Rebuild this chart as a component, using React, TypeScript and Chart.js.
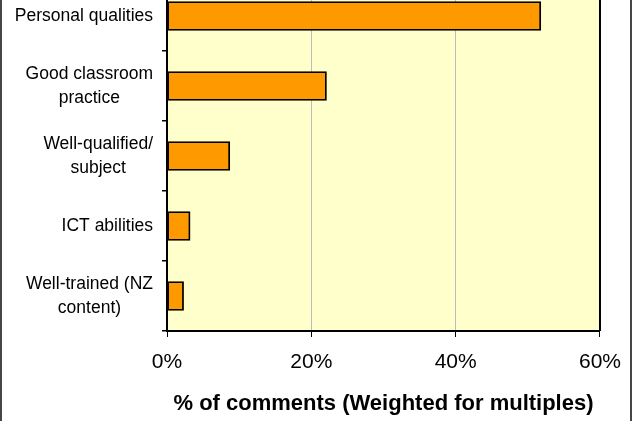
import React, { useEffect, useRef } from "react";
import { Chart, registerables } from "chart.js";

Chart.register(...registerables);

// Category labels (one entry per bar, split into display lines)
const categories: string[][] = [
  ["Personal qualities"],
  ["Good classroom", "practice"],
  ["Well-qualified/", "subject"],
  ["ICT abilities"],
  ["Well-trained (NZ", "content)"],
];

// Share of comments, percent (weighted for multiples)
const shares: number[] = [51.8, 22.1, 8.7, 3.2, 2.3];

// Value axis
const axisMin = 0;
const axisMax = 60;
const axisStep = 20;
const axisTitle = "% of comments (Weighted for multiples)";

const FONT = '"Liberation Sans", Arial, Helvetica, sans-serif';

// Fills and frames the plot area, draws the outer chart frame
const plotFrame = {
  id: "plotFrame",
  beforeDraw(chart: any) {
    const { ctx, chartArea: a } = chart;
    ctx.save();
    ctx.fillStyle = "#ffffff";
    ctx.fillRect(0, 0, chart.width, chart.height);
    ctx.fillStyle = "#FFFFCC";
    ctx.fillRect(a.left, a.top, a.right - a.left, a.bottom - a.top);
    ctx.restore();
  },
  afterDraw(chart: any) {
    const { ctx, chartArea: a } = chart;
    ctx.save();
    ctx.strokeStyle = "#000";
    ctx.lineWidth = 2;
    ctx.beginPath();
    ctx.moveTo(a.right, a.top);
    ctx.lineTo(a.right, a.bottom);
    ctx.moveTo(a.left, a.top);
    ctx.lineTo(a.right, a.top);
    ctx.stroke();
    // outer chart border
    ctx.strokeStyle = "#1a1a1a";
    ctx.lineWidth = 1.6;
    ctx.beginPath();
    ctx.moveTo(1, 0);
    ctx.lineTo(1, chart.height);
    ctx.moveTo(631, 0);
    ctx.lineTo(631, chart.height);
    ctx.stroke();
    ctx.restore();
  },
};

// Category labels: lines centred on each other, block right-aligned to the axis
const categoryLabels = {
  id: "categoryLabels",
  afterDraw(chart: any) {
    const { ctx } = chart;
    const y = chart.scales.y;
    const rightEdge = y.right - 14;
    const lineH = 24.5;
    ctx.save();
    ctx.font = `17.5px ${FONT}`;
    ctx.fillStyle = "#000";
    ctx.textAlign = "center";
    ctx.textBaseline = "middle";
    (chart.data.labels as string[][]).forEach((lines, i) => {
      const cy = y.getPixelForValue(i);
      const maxW = Math.max(...lines.map((l) => ctx.measureText(l).width));
      const cx = rightEdge - maxW / 2;
      lines.forEach((l, j) => {
        ctx.fillText(l, cx, cy + (j - (lines.length - 1) / 2) * lineH);
      });
    });
    ctx.restore();
  },
};

export default function App() {
  const ref = useRef<HTMLCanvasElement | null>(null);

  useEffect(() => {
    if (!ref.current) return;
    const chart = new Chart(ref.current, {
      type: "bar",
      data: {
        labels: categories as any,
        datasets: [
          {
            data: shares,
            backgroundColor: "#FF9900",
            borderColor: "#000000",
            borderWidth: 1.8,
            borderSkipped: false,
            barThickness: 29,
          },
        ],
      },
      options: {
        indexAxis: "y",
        animation: false,
        responsive: true,
        maintainAspectRatio: false,
        layout: { padding: { top: 21, right: 34, left: 0, bottom: 0 } },
        plugins: {
          legend: { display: false },
          tooltip: { enabled: false },
        },
        scales: {
          x: {
            min: axisMin,
            max: axisMax,
            afterFit(scale: any) {
              scale.height = 109;
            },
            ticks: {
              stepSize: axisStep,
              padding: 13,
              color: "#000",
              font: { family: FONT, size: 21 },
              callback: (v: any) => `${v}%`,
            },
            grid: {
              color: (c: any) =>
                c.tick && (c.tick.value === axisMin || c.tick.value === axisMax)
                  ? "rgba(0,0,0,0)"
                  : "#bdbdbd",
              lineWidth: 1,
              tickColor: "#000",
              tickLength: 6,
            },
            border: { color: "#000", width: 2 },
            title: {
              display: true,
              text: axisTitle,
              color: "#000",
              font: { family: FONT, size: 22, weight: "bold" },
              padding: { top: 0, bottom: 23 },
            },
          },
          y: {
            afterFit(scale: any) {
              scale.width = 167;
            },
            ticks: { display: false },
            grid: {
              drawOnChartArea: false,
              tickColor: "#000",
              tickLength: 5,
              lineWidth: 1.5,
            },
            border: { color: "#000", width: 2 },
          },
        },
      },
      plugins: [plotFrame, categoryLabels],
    });
    return () => chart.destroy();
  }, []);

  return (
    <div
      style={{
        position: "fixed",
        left: 0,
        top: 0,
        width: 634,
        height: 421,
        overflow: "hidden",
        background: "#fff",
      }}
    >
      <div style={{ position: "absolute", left: 0, top: -40, width: 634, height: 480 }}>
        <canvas ref={ref} />
      </div>
    </div>
  );
}
